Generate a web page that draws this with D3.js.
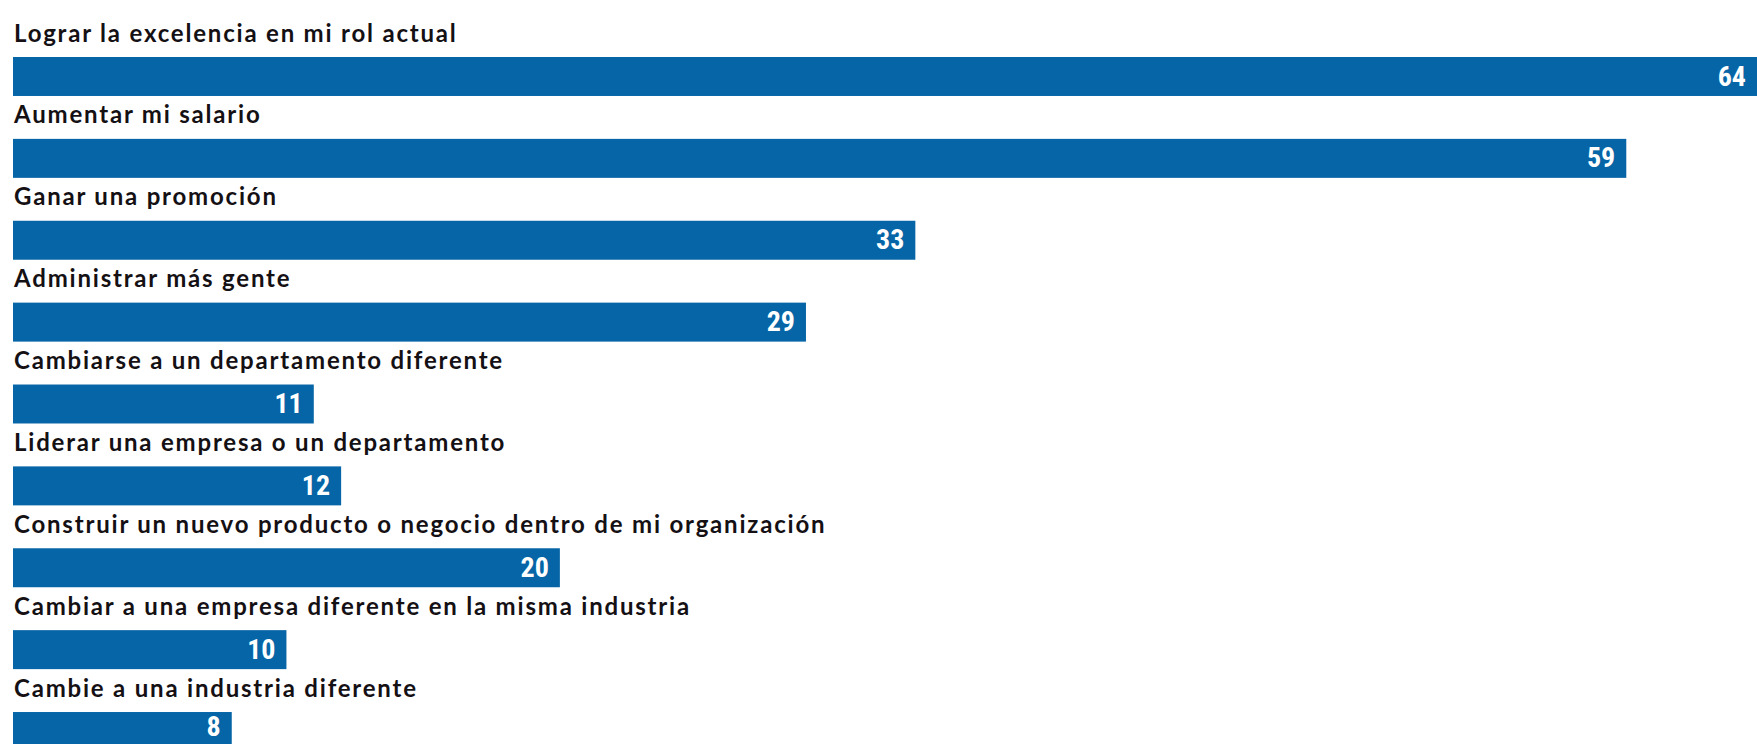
<!DOCTYPE html>
<html>
<head>
<meta charset="utf-8">
<script src="https://cdn.jsdelivr.net/npm/d3@7"></script>
<style>
    body { margin: 0; background: #fff; }
    svg { display: block; }
</style>
</head>
<body>
<script>
// données
var categories = [
    "Lograr la excelencia en mi rol actual",
    "Aumentar mi salario",
    "Ganar una promoción",
    "Administrar más gente",
    "Cambiarse a un departamento diferente",
    "Liderar una empresa o un departamento",
    "Construir un nuevo producto o negocio dentro de mi organización",
    "Cambiar a una empresa diferente en la misma industria",
    "Cambie a una industria diferente"
];
var values = [64, 59, 33, 29, 11, 12, 20, 10, 8];

var width = 1757;
var height = 744;

var svg = d3.select("body")
    .append("svg")
    .attr("width", width)
    .attr("height", height);

// echelles
var xscale = d3.scaleLinear()
    .domain([0, 64])
    .range([13, 1763]);

var yscale = d3.scaleBand()
    .domain(categories)
    .range([57, 751])
    .paddingInner(0.524)
    .paddingOuter(0);

var data = categories.map(function (c, i) { return { label: c, value: values[i] }; });

var g = svg.append("g");

// barres
g.selectAll("rect")
    .data(data)
    .enter()
    .append("rect")
    .attr("x", xscale(0))
    .attr("y", function (d) { return yscale(d.label); })
    .attr("width", function (d) { return xscale(d.value) - xscale(0); })
    .attr("height", yscale.bandwidth())
    .style("fill", "#0665a6");

// libellés
g.selectAll(".label")
    .data(data)
    .enter()
    .append("text")
    .attr("class", "label")
    .attr("x", 14)
    .attr("y", function (d) { return yscale(d.label) - 15.5; })
    .text(function (d) { return d.label; })
    .style("font-family", "Lato, 'Open Sans', sans-serif")
    .style("font-weight", "bold")
    .style("font-size", "24px")
    .style("letter-spacing", "1.8px")
    .style("fill", "#141014");

// valeurs (on garde le texte dans l'image)
g.selectAll(".val")
    .data(data)
    .enter()
    .append("text")
    .attr("class", "val")
    .attr("x", function (d) { return Math.min(xscale(d.value), width) - 11; })
    .attr("y", function (d) { return Math.min(yscale(d.label) + yscale.bandwidth() / 2 - 1, height - 18); })
    .attr("dy", "0.36em")
    .attr("text-anchor", "end")
    .text(function (d) { return d.value; })
    .style("font-family", "'Liberation Sans Narrow', 'Roboto Condensed', Roboto, sans-serif")
    .style("font-weight", "bold")
    .style("font-size", "28px")
    .style("fill", "#fff");
</script>
</body>
</html>
